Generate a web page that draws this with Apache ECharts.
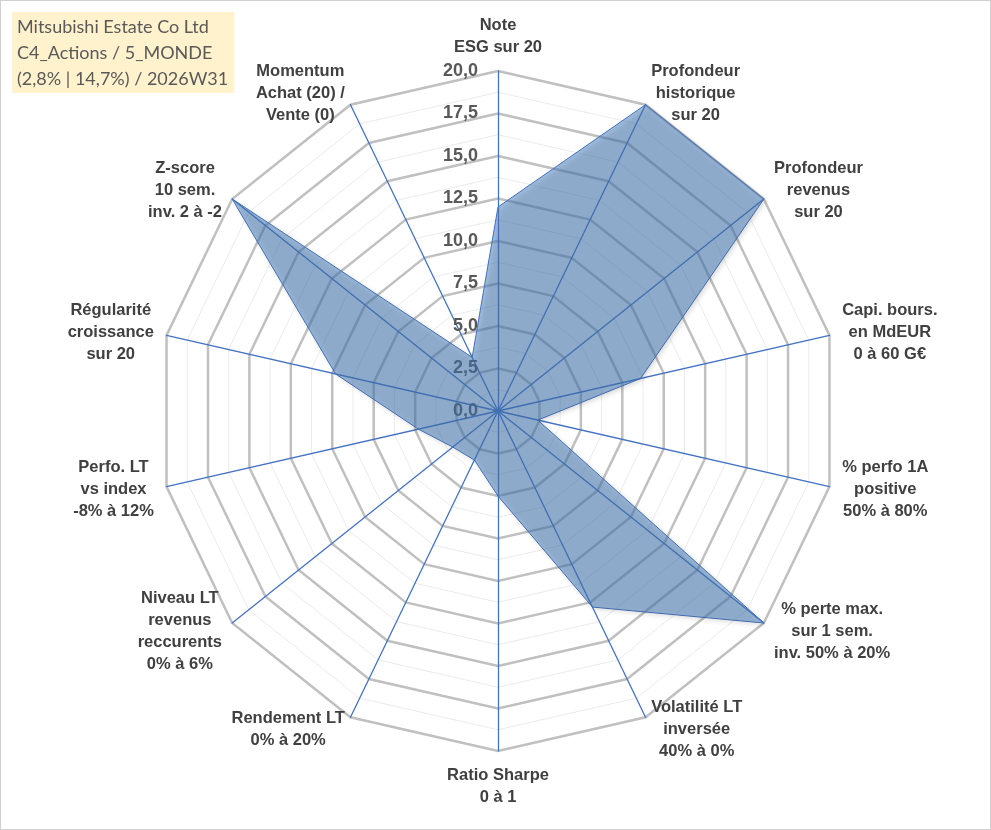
<!DOCTYPE html>
<html>
<head>
<meta charset="utf-8">
<script src="https://cdn.jsdelivr.net/npm/echarts@6/dist/echarts.min.js"></script>
<style>
html,body{margin:0;padding:0;background:#fff;}
#c{width:991px;height:830px;box-sizing:border-box;border:1px solid #d0d0d0;}
</style>
</head>
<body>
<div id="c"></div>
<script>
// ---- data ----
const titleLines = ["Mitsubishi Estate Co Ltd", "C4_Actions / 5_MONDE", "(2,8% | 14,7%) / 2026W31"];
const indicatorNames = [
  "Note\nESG sur 20",
  "Profondeur\nhistorique\nsur 20",
  "Profondeur\nrevenus\nsur 20",
  "Capi. bours.\nen MdEUR\n0 à 60 G€",
  "% perfo 1A\npositive\n50% à 80%",
  "% perte max.\nsur 1 sem.\ninv. 50% à 20%",
  "Volatilité LT\ninversée\n40% à 0%",
  "Ratio Sharpe\n0 à 1",
  "Rendement LT\n0% à 20%",
  "Niveau LT\nrevenus\nreccurents\n0% à 6%",
  "Perfo. LT\nvs index\n-8% à 12%",
  "Régularité\ncroissance\nsur 20",
  "Z-score\n10 sem.\ninv. 2 à -2",
  "Momentum\nAchat (20) /\nVente (0)"
];
const scores = [12, 20, 20, 8.6, 2.4, 20, 12.8, 5, 3.2, 3.4, 4.8, 9.8, 20, 3.5];
const axisMin = 0;
const axisMax = 20;
const majorSplits = 8;   // ticks 0,0 ; 2,5 ; ... ; 20,0
const minorSplits = 16;

// ---- chart ----
const chart = echarts.init(document.getElementById('c'), null, {renderer: 'canvas'});

// ECharts places indicators counter-clockwise; reorder so they run clockwise like the reference
const order = [0].concat(indicatorNames.map((_, i) => i).slice(1).reverse());
const indNames = order.map(i => indicatorNames[i]);
const indValues = order.map(i => scores[i]);

const center = [497, 410];
const radius = 340;

function makeIndicators(withLabels) {
  return indNames.map((n, k) => {
    const o = {name: n, min: axisMin, max: axisMax};
    if (withLabels) o.axisLabel = {show: k === 0};
    return o;
  });
}

const option = {
  backgroundColor: '#ffffff',
  animation: false,
  title: {
    text: titleLines.join('\n'),
    left: 11, top: 11,
    backgroundColor: '#FFF2CC',
    padding: [2, 6, 1, 5],
    textStyle: {
      fontFamily: 'Lato', fontSize: 18, fontWeight: 'normal',
      color: '#595959', lineHeight: 26
    }
  },
  radar: [
    {
      center: center, radius: radius, shape: 'polygon',
      splitNumber: minorSplits,
      indicator: makeIndicators(false),
      axisName: {show: false},
      axisLine: {show: false},
      axisTick: {show: false},
      axisLabel: {show: false},
      splitArea: {show: false},
      splitLine: {lineStyle: {color: '#ebebeb', width: 1}},
      z: 1
    },
    {
      center: center, radius: radius, shape: 'polygon',
      splitNumber: majorSplits,
      indicator: makeIndicators(true),
      nameGap: 13,
      axisName: {
        color: '#404040', fontFamily: 'Liberation Sans', fontWeight: 'bold', fontSize: 16.5,
        lineHeight: 22,
        formatter: function (name) {
          return name.split('\n').map(l => '{c|' + l + '}').join('\n');
        },
        rich: {
          c: {align: 'center', color: '#404040', fontFamily: 'Liberation Sans',
              fontWeight: 'bold', fontSize: 16.5, lineHeight: 22}
        }
      },
      axisLine: {show: true, lineStyle: {color: '#4472C4', width: 1.3}},
      axisTick: {show: false},
      axisLabel: {
        show: false, margin: 20,
        color: '#595959', fontFamily: 'Liberation Sans', fontWeight: 'bold', fontSize: 18,
        formatter: function (v) { return v.toFixed(1).replace('.', ','); }
      },
      splitArea: {show: false},
      splitLine: {lineStyle: {color: '#c0c0c0', width: 2.5}},
      z: 2
    }
  ],
  series: [{
    type: 'radar',
    radarIndex: 1,
    symbol: 'none',
    z: 3,
    lineStyle: {color: '#4472C4', width: 1},
    areaStyle: {
      color: 'rgba(70,124,188,0.72)',
      shadowBlur: 5, shadowColor: 'rgba(0,0,0,0.3)', shadowOffsetX: 2, shadowOffsetY: 2
    },
    data: [{value: indValues, name: titleLines[0]}]
  }]
};
chart.setOption(option);
</script>
</body>
</html>
